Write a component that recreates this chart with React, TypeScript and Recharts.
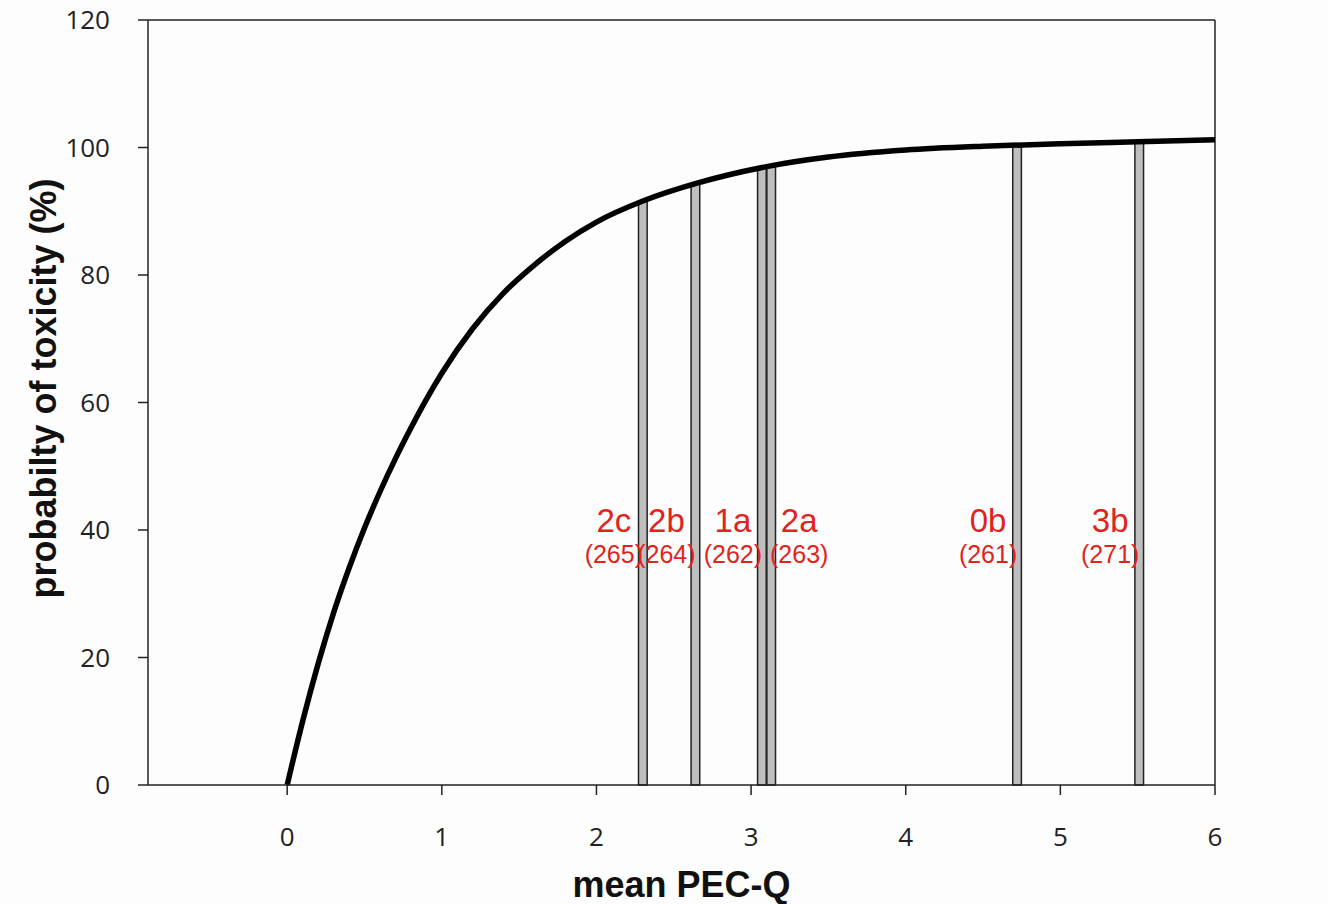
import {
  ComposedChart,
  Line,
  XAxis,
  YAxis,
  ReferenceArea,
  ReferenceLine,
  Scatter,
} from 'recharts'

// dose-response curve
const curveX = [0, 0.1, 0.2, 0.3, 0.4, 0.5, 0.6, 0.7, 0.8, 0.9, 1.0, 1.2, 1.4, 1.6, 1.8, 2.0, 2.3, 2.65, 3.1, 3.5, 4, 4.5, 5, 5.5, 6]
const curveY = [0, 10, 19, 27, 34, 40.3, 46, 51.2, 56, 60.5, 64.6, 71.6, 77.2, 81.6, 85.3, 88.3, 91.6, 94.4, 97, 98.5, 99.6, 100.2, 100.6, 100.9, 101.2]

// sampled sites
const siteIds = ['2c', '2b', '1a', '2a', '0b', '3b']
const siteCodes = ['(265)', '(264)', '(262)', '(263)', '(261)', '(271)']
const siteX = [2.3, 2.64, 3.07, 3.13, 4.72, 5.51]
const siteY = [91.6, 94.4, 97, 97.3, 100.2, 100.9]
const siteLabelSide = ['left', 'left', 'left', 'right', 'left', 'left']

const xTicks = [0, 1, 2, 3, 4, 5, 6]
const yTicks = [0, 20, 40, 60, 80, 100, 120]

const curveData = curveX.map((x, i) => ({ x, y: curveY[i] }))

const LABEL_LEVEL = 40
const labelData = siteX.map((x, i) => ({
  x,
  y: LABEL_LEVEL,
  id: siteIds[i],
  code: siteCodes[i],
  side: siteLabelSide[i],
}))

const BAR_HALF = 0.028
const RED = '#e2231d'
const tickFont = { fontFamily: '"Open Sans", sans-serif', fontSize: 26, fill: '#222' }

function SiteLabel(props: any) {
  const { cx, cy, payload } = props
  if (cx == null || cy == null) return null
  const tx = payload.side === 'left' ? cx - 29 : cx + 28
  return (
    <g fontFamily='"Liberation Sans", Arial, sans-serif' fill={RED} textAnchor="middle">
      <text x={tx} y={cy + 2} fontSize={33}>
        {payload.id}
      </text>
      <text x={tx} y={cy + 33} fontSize={25}>
        {payload.code}
      </text>
    </g>
  )
}

export default function App() {
  return (
    <div style={{ position: 'absolute', left: 0, top: 0, width: 1328, height: 904, background: '#fdfdfd' }}>
      <ComposedChart
        width={1328}
        height={904}
        data={curveData}
        margin={{ top: 20, right: 113, left: 0, bottom: 0 }}
      >
        <XAxis
          type="number"
          dataKey="x"
          domain={[-0.9, 6]}
          ticks={xTicks}
          allowDataOverflow
          height={119}
          tickSize={10}
          tickMargin={33}
          tick={tickFont}
          stroke="#222"
          strokeWidth={1.5}
          label={{
            content: ({ viewBox }: any) => (
              <text
                x={viewBox.x + viewBox.width / 2}
                y={viewBox.y + 112}
                textAnchor="middle"
                fontFamily='"Liberation Sans", Arial, sans-serif'
                fontWeight="bold"
                fontSize={36}
                fill="#111"
              >
                mean PEC-Q
              </text>
            ),
          }}
        />
        <YAxis
          type="number"
          domain={[0, 120]}
          ticks={yTicks}
          width={148}
          tickSize={10}
          tickMargin={28}
          tick={tickFont}
          stroke="#222"
          strokeWidth={1.5}
          label={{
            content: ({ viewBox }: any) => {
              const x = viewBox.x + 43
              const y = viewBox.y + viewBox.height / 2 - 14
              return (
                <text
                  x={x}
                  y={y}
                  transform={`rotate(-90 ${x} ${y})`}
                  textAnchor="middle"
                  dominantBaseline="central"
                  fontFamily='"Liberation Sans", Arial, sans-serif'
                  fontWeight="bold"
                  fontSize={36}
                  fill="#111"
                >
                  probabilty of toxicity (%)
                </text>
              )
            },
          }}
        />
        <ReferenceLine y={120} stroke="#222" strokeWidth={1.5} />
        <ReferenceLine x={6} stroke="#222" strokeWidth={1.5} />
        {siteX.map((x, i) => (
          <ReferenceArea
            key={siteIds[i]}
            x1={x - BAR_HALF}
            x2={x + BAR_HALF}
            y1={0}
            y2={siteY[i]}
            fill="#bebebe"
            fillOpacity={1}
            stroke="#222"
            strokeWidth={1.5}
          />
        ))}
        <Line
          type="monotone"
          dataKey="y"
          stroke="#000"
          strokeWidth={5.5}
          dot={false}
          activeDot={false}
          isAnimationActive={false}
        />
        <Scatter data={labelData} dataKey="y" shape={SiteLabel} isAnimationActive={false} />
      </ComposedChart>
    </div>
  )
}
